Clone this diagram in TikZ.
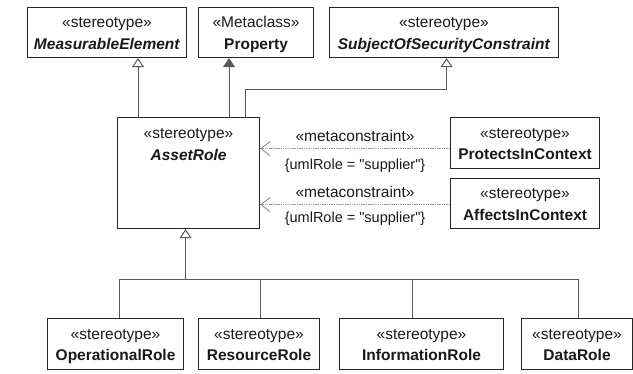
\documentclass[tikz,border=0pt]{standalone}
\usepackage{fontspec}
\setmainfont[Ligatures=TeXOff]{Liberation Sans}
\usetikzlibrary{arrows.meta,calc}
\newcommand\mystrut{\rule[-4.5pt]{0pt}{20.5pt}}
\newcommand\twoline[2]{\mystrut#1\\\mystrut#2}
\begin{document}
\begin{tikzpicture}[x=1pt,y=-1pt,
  box/.style={draw=black!85, line width=1.1pt, inner sep=0pt, anchor=north west, align=center,
    font=\fontsize{15.5}{21.5}\selectfont, text=black!90},
  conn/.style={draw=black!65, line width=1pt},
  gen/.style={conn, -{Triangle[open, length=9pt, width=12pt]}},
  ext/.style={conn, -{Triangle[length=9pt, width=12pt]}},
  meta/.style={draw=black!40, line width=1pt, dash pattern=on 1.5pt off 0.8pt,
    -{Straight Barb[length=9pt, width=14pt, line width=1pt]}},
  lbl/.style={font=\fontsize{15.5}{18}\selectfont, text=black!90, inner sep=0pt},
  cons/.style={font=\fontsize{14.5}{18}\selectfont, text=black!90, inner sep=0pt}
]
\useasboundingbox (0,0) rectangle (633,373);

% top row
\node[box, minimum width=159pt, minimum height=50pt] (me) at (27,7)
  {\twoline{«stereotype»}{\textbf{\textit{MeasurableElement}}}};
\node[box, minimum width=115pt, minimum height=50pt] (pr) at (198,7)
  {\twoline{«Metaclass»}{\textbf{Property}}};
\node[box, minimum width=229pt, minimum height=50pt] (ss) at (329,7)
  {\twoline{«stereotype»}{\textbf{\textit{SubjectOfSecurityConstraint}}}};

% AssetRole
\node[box, minimum width=142pt, minimum height=111pt] (ar) at (117,117) {};
\node[box, draw=none, anchor=north] (artxt) at ($(ar.north)+(0,5)$)
  {\twoline{«stereotype»}{\textbf{\textit{AssetRole}}}};

% right boxes
\node[box, minimum width=149pt, minimum height=51pt] (pc) at (450,117)
  {\twoline{«stereotype»}{\textbf{ProtectsInContext}}};
\node[box, minimum width=149pt, minimum height=50pt] (ac) at (450,178)
  {\twoline{«stereotype»}{\textbf{AffectsInContext}}};

% bottom row
\node[box, minimum width=136pt, minimum height=51pt] (op) at (47,318)
  {\twoline{«stereotype»}{\textbf{OperationalRole}}};
\node[box, minimum width=121pt, minimum height=51pt] (rr) at (198,318)
  {\twoline{«stereotype»}{\textbf{ResourceRole}}};
\node[box, minimum width=164pt, minimum height=51pt] (ir) at (339,318)
  {\twoline{«stereotype»}{\textbf{InformationRole}}};
\node[box, minimum width=111pt, minimum height=51pt] (dr) at (521,318)
  {\twoline{«stereotype»}{\textbf{DataRole}}};

% generalizations upward
\coordinate (a1) at ([xshift=21pt]ar.north west);
\coordinate (a2) at ([xshift=112pt]ar.north west);
\coordinate (a3) at ([xshift=128pt]ar.north west);
\coordinate (s3) at ([xshift=2.5pt]ss.south);
\draw[gen] (a1) -- (a1 |- me.south);
\draw[ext] (a2) -- (a2 |- pr.south);
\draw[gen] (a3) |- ($(s3)+(0,31)$) -- (s3);

% metaconstraints
\coordinate (m1) at ([yshift=-5.5pt]pc.west);
\coordinate (m2) at ([yshift=-1pt]ac.west);
\draw[meta] (m1) -- (m1 -| ar.east)
  node[midway, lbl, yshift=13pt] {«metaconstraint»}
  node[midway, cons, yshift=-17pt] {\{umlRole = "supplier"\}};
\draw[meta] (m2) -- (m2 -| ar.east)
  node[midway, lbl, yshift=13pt] {«metaconstraint»}
  node[midway, cons, yshift=-14pt] {\{umlRole = "supplier"\}};

% generalization tree
\coordinate (jn) at ([xshift=-3pt,yshift=-50pt]ar.south);
\draw[gen] (jn) -- (jn |- ar.south);
\draw[conn] ([xshift=4pt]op.north) |- (jn);
\draw[conn] ([xshift=1.5pt]rr.north) |- (jn);
\draw[conn] ([xshift=-9pt]ir.north) |- (jn);
\draw[conn] ([xshift=1.5pt]dr.north) |- (jn);
\end{tikzpicture}
\end{document}
